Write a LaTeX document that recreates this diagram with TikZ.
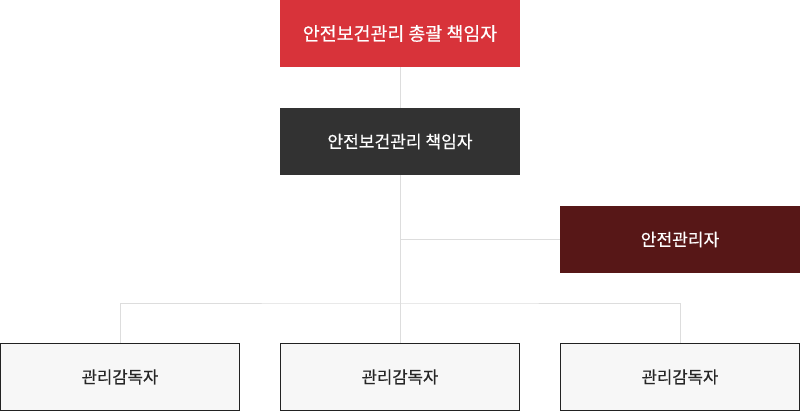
\documentclass[tikz,border=0pt]{standalone}
\usepackage{fontspec}
\setmainfont{Noto Sans CJK KR}[FakeBold=0.4]
\usepackage{xcolor}
\usepackage{tikz}
\usetikzlibrary{positioning,backgrounds}
\definecolor{orgred}{RGB}{216,51,58}
\definecolor{orgdark}{RGB}{50,50,50}
\definecolor{orgwine}{RGB}{87,23,23}
\definecolor{orgline}{RGB}{221,221,221}
\definecolor{orgpale}{RGB}{247,247,247}
\definecolor{orgedge}{RGB}{34,34,34}
\tikzset{
  block/.style={inner sep=0pt, minimum width=180pt, minimum height=50.25pt,
    align=center, text=white, font=\fontsize{12.8}{15}\selectfont},
  subblock/.style={draw=orgedge, line width=0.75pt, fill=orgpale, inner sep=0pt,
    minimum width=179.25pt, minimum height=50.25pt, align=center,
    text=black!85, font=\fontsize{12.5}{15}\selectfont},
  link/.style={draw=orgline, line width=0.75pt},
}

\begin{document}
\begin{tikzpicture}[x=0.75pt,y=0.75pt]
  \useasboundingbox (0,0) rectangle (800,-412);

  \node[block, fill=orgred, font=\fontsize{13.8}{16}\selectfont] (chief) at (400,-33.5)
    {안전보건관리 총괄 책임자};
  \node[block, fill=orgdark] (head) at (400,-141.5) {안전보건관리 책임자};
  \node[block, fill=orgwine] (safety) at (680,-239.5) {안전관리자};

  \node[subblock] (supA) at (120,-377) {관리감독자};
  \node[subblock] (supB) at (400,-377) {관리감독자};
  \node[subblock] (supC) at (680,-377) {관리감독자};

  \coordinate (bus) at (400,-303);

  \begin{scope}[on background layer]
    \draw[link] (chief.south) -- (supB.north);
    \draw[link] (safety.west) -- (safety.west -| head.south);
    \draw[link] (supA.north) |- (bus) -| (supC.north);
  \end{scope}
\end{tikzpicture}
\end{document}
